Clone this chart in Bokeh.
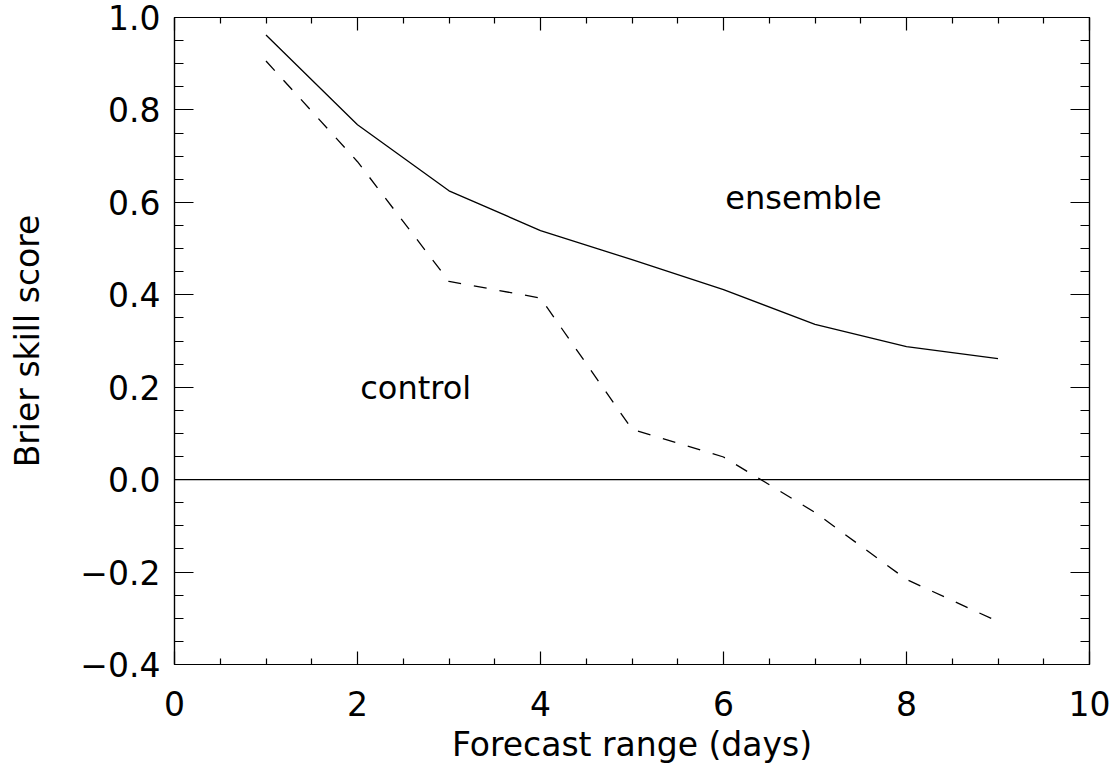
from bokeh.plotting import figure
from bokeh.models import FixedTicker, Span, Label, LinearAxis, Range1d
from bokeh.embed import file_html
from bokeh.resources import INLINE

# ---- data ----
days = [1, 2, 3, 4, 5, 6, 7, 8, 9]
ensemble = [0.962, 0.768, 0.625, 0.539, 0.476, 0.411, 0.336, 0.288, 0.262]
control = [0.906, 0.688, 0.429, 0.393, 0.109, 0.049, -0.071, -0.216, -0.307]

x_ticks = [0, 2, 4, 6, 8, 10]
x_tick_labels = ["0", "2", "4", "6", "8", "10"]
x_minor = [0.5, 1, 1.5, 2.5, 3, 3.5, 4.5, 5, 5.5, 6.5, 7, 7.5, 8.5, 9, 9.5]
y_ticks = [-0.4, -0.2, 0.0, 0.2, 0.4, 0.6, 0.8, 1.0]
y_tick_labels = ["\u22120.4", "\u22120.2", "0.0", "0.2", "0.4", "0.6", "0.8", "1.0"]
y_minor = [-0.35, -0.3, -0.25, -0.15, -0.1, -0.05, 0.05, 0.1, 0.15, 0.25, 0.3, 0.35,
           0.45, 0.5, 0.55, 0.65, 0.7, 0.75, 0.85, 0.9, 0.95]

FONT = "DejaVu Sans"
FS = "33px"

p = figure(width=1112, height=774, x_range=Range1d(0, 10), y_range=Range1d(-0.4, 1.0),
           output_backend="svg", toolbar_location=None,
           min_border_left=174, min_border_right=23, min_border_top=17, min_border_bottom=110,
           background_fill_color="white", border_fill_color="white")
p.grid.visible = False
p.outline_line_color = "black"
p.outline_line_width = 1.2

xt = FixedTicker(ticks=x_ticks, minor_ticks=x_minor)
yt = FixedTicker(ticks=y_ticks, minor_ticks=y_minor)

def style(ax, ticker, major_in, minor_in, show_labels):
    ax.ticker = ticker
    ax.major_tick_in = major_in
    ax.major_tick_out = 0
    ax.minor_tick_in = minor_in
    ax.minor_tick_out = 0
    ax.major_tick_line_color = "black"
    ax.minor_tick_line_color = "black"
    ax.major_tick_line_width = 1.2
    ax.minor_tick_line_width = 1.2
    ax.axis_line_color = "black"
    ax.axis_line_width = 1.2
    if show_labels:
        ax.major_label_text_font = FONT
        ax.major_label_text_font_size = FS
        ax.major_label_text_color = "black"
        ax.axis_label_text_font = FONT
        ax.axis_label_text_font_size = FS
        ax.axis_label_text_font_style = "normal"
        ax.axis_label_text_color = "black"
    else:
        ax.major_label_overrides = {float(v): "" for v in ticker.ticks}
        ax.major_label_text_font_size = "1px"
        ax.major_label_standoff = 0

xa = p.xaxis[0]
style(xa, xt, 13, 6, True)
xa.major_label_overrides = {float(v): s for v, s in zip(x_ticks, x_tick_labels)}
xa.axis_label = "Forecast range (days)"
xa.major_label_standoff = 26
xa.axis_label_standoff = 6

ya = p.yaxis[0]
style(ya, yt, 19, 9, True)
ya.major_label_overrides = {float(v): s for v, s in zip(y_ticks, y_tick_labels)}
ya.axis_label = "Brier skill score"
ya.major_label_standoff = 14
ya.axis_label_standoff = 30

top = LinearAxis()
style(top, xt, 13, 6, False)
p.add_layout(top, "above")
right = LinearAxis()
style(right, yt, 19, 9, False)
p.add_layout(right, "right")

p.add_layout(Span(location=0, dimension="width", line_color="black", line_width=1.3))

p.line(days, ensemble, line_color="black", line_width=1.3)
p.line(days, control, line_color="black", line_width=1.3, line_dash="13 13")

p.add_layout(Label(x=6.02, y=0.609, text="ensemble", text_font=FONT, text_font_size="32px",
                   text_color="black", text_baseline="alphabetic", text_align="left"))
p.add_layout(Label(x=2.03, y=0.199, text="control", text_font=FONT, text_font_size="32px",
                   text_color="black", text_baseline="alphabetic", text_align="left"))

open("out.html", "w").write(file_html(p, INLINE))
